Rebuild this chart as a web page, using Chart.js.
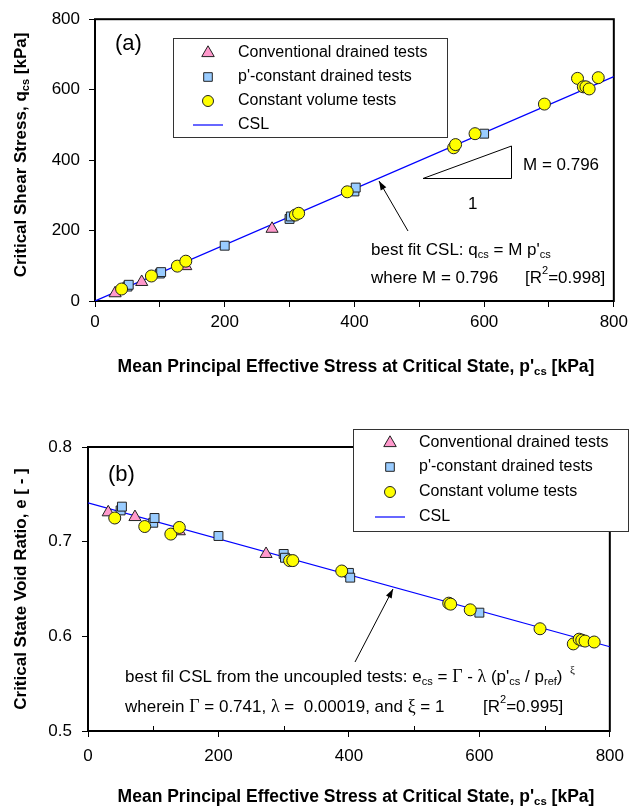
<!DOCTYPE html>
<html lang="en">
<head>
    <meta charset="UTF-8">
    <title>Critical state line</title>
    <script src="https://cdn.jsdelivr.net/npm/chart.js"></script>
    <style>
        body { margin: 0; background: #fff; }
        .wrap { position: absolute; left: 0; }
        #top { top: 0; }
        #bot { top: 390px; }
    </style>
</head>
<body>
    <div class="wrap" id="top"><canvas id="chartA" width="633" height="390"></canvas></div>
    <div class="wrap" id="bot"><canvas id="chartB" width="633" height="419"></canvas></div>

    <script>
        // data
        const pConv = [31, 72, 140, 273];
        const qConv = [22, 54, 99, 205];
        const eConv = [0.731, 0.726, 0.711, 0.687];

        const pPc = [50, 52, 100, 102, 200, 300, 302, 400, 402, 600];
        const qPc = [41, 46, 78, 82, 157, 233, 240, 311, 322, 475];
        const ePc = [0.733, 0.737, 0.720, 0.725, 0.706, 0.687, 0.683, 0.667, 0.662, 0.625];

        const pCv = [41, 87, 127, 140, 309, 314, 389, 553, 556, 586, 693, 744, 753, 757, 762, 776];
        const qCv = [34, 71, 99, 113, 244, 249, 310, 435, 444, 475, 559, 632, 608, 608, 602, 634];
        const eCv = [0.725, 0.716, 0.708, 0.715, 0.680, 0.680, 0.669, 0.635, 0.634, 0.628, 0.608, 0.592, 0.597, 0.596, 0.595, 0.594];

        const pCsl = [0, 800];
        const qCsl = [0, 637];
        const eCsl = [0.741, 0.589];

        const xTicks = [0, 200, 400, 600, 800];
        const xMinor = [100, 300, 500, 700];
        const qTicks = [0, 200, 400, 600, 800];
        const eTicks = [0.5, 0.6, 0.7, 0.8];

        const legendLabels = ['Conventional drained tests', 'p\'-constant drained tests', 'Constant volume tests', 'CSL'];

        const SANS = 'Arial, "Liberation Sans", sans-serif';
        const SERIF = '"Liberation Serif", "Times New Roman", serif';
        const PINK = '#FF99CC', BLUE = '#99CCFF', YELLOW = '#FFFF00', EDGE = '#222';

        function pts(xs, ys) { return xs.map((x, i) => ({ x: x, y: ys[i] })); }

        function makeDatasets(yConv, yPc, yCv, yCsl) {
            return [
                { label: legendLabels[2], data: pts(pCv, yCv), pointStyle: 'circle', pointRadius: 6,
                  backgroundColor: YELLOW, borderColor: EDGE, borderWidth: 1, showLine: false, order: 1 },
                { label: legendLabels[1], data: pts(pPc, yPc), pointStyle: 'rect', pointRadius: 6.3,
                  backgroundColor: BLUE, borderColor: EDGE, borderWidth: 1, showLine: false, order: 2 },
                { label: legendLabels[0], data: pts(pConv, yConv), pointStyle: 'triangle', pointRadius: 7,
                  backgroundColor: PINK, borderColor: EDGE, borderWidth: 1, showLine: false, order: 3 },
                { label: legendLabels[3], data: pts(pCsl, yCsl), pointRadius: 0, showLine: true,
                  borderColor: '#0000FF', borderWidth: 1.2, fill: false, order: 4 }
            ];
        }

        // text with sub / superscripts
        const T = t => ({ t: t });
        const S = t => ({ t: t, sub: true });
        const U = t => ({ t: t, sup: true });
        const G = t => ({ t: t, greek: true });
        const GU = t => ({ t: t, greek: true, sup: true });

        function drawRich(ctx, parts, x, y, size, bold, align) {
            const fontFor = p => {
                let s = (p.sub || p.sup) ? size * 0.65 : size;
                let f = p.greek ? SERIF : SANS;
                if (p.greek && !p.sup) s = size * 1.05;
                return (bold ? 'bold ' : '') + s + 'px ' + f;
            };
            let w = 0;
            parts.forEach(p => { ctx.font = fontFor(p); w += ctx.measureText(p.t).width; });
            let cx = align === 'center' ? x - w / 2 : x;
            ctx.textAlign = 'left';
            ctx.textBaseline = 'middle';
            ctx.fillStyle = '#000';
            parts.forEach(p => {
                ctx.font = fontFor(p);
                const dy = p.sub ? size * 0.3 : (p.sup ? -size * 0.4 : 0);
                ctx.fillText(p.t, cx, y + dy);
                cx += ctx.measureText(p.t).width;
            });
        }

        function symbol(ctx, kind, x, y) {
            ctx.save();
            ctx.lineWidth = 1;
            ctx.strokeStyle = EDGE;
            ctx.beginPath();
            if (kind === 'circle') {
                ctx.fillStyle = YELLOW;
                ctx.arc(x, y, 5.5, 0, Math.PI * 2);
            } else if (kind === 'rect') {
                ctx.fillStyle = BLUE;
                ctx.rect(x - 4.3, y - 4.3, 8.6, 8.6);
            } else if (kind === 'triangle') {
                ctx.fillStyle = PINK;
                const r = 7.2;
                ctx.moveTo(x, y - r);
                ctx.lineTo(x + r * 0.866, y + r * 0.5);
                ctx.lineTo(x - r * 0.866, y + r * 0.5);
                ctx.closePath();
            }
            ctx.fill();
            ctx.stroke();
            ctx.restore();
        }

        function drawLegend(ctx, box, symX, textX, rows) {
            ctx.save();
            ctx.fillStyle = '#fff';
            ctx.fillRect(box[0], box[1], box[2] - box[0], box[3] - box[1]);
            ctx.strokeStyle = '#333';
            ctx.lineWidth = 1;
            ctx.strokeRect(box[0] + 0.5, box[1] + 0.5, box[2] - box[0], box[3] - box[1]);
            const kinds = ['triangle', 'rect', 'circle', 'line'];
            kinds.forEach((k, i) => {
                if (k === 'line') {
                    ctx.strokeStyle = '#0000FF';
                    ctx.lineWidth = 1.2;
                    ctx.beginPath();
                    ctx.moveTo(symX - 15, rows[i]);
                    ctx.lineTo(symX + 15, rows[i]);
                    ctx.stroke();
                } else {
                    symbol(ctx, k, symX, rows[i]);
                }
                drawRich(ctx, [T(legendLabels[i])], textX, rows[i], 16, false, 'left');
            });
            ctx.restore();
        }

        function arrow(ctx, x0, y0, x1, y1) {
            ctx.save();
            ctx.strokeStyle = '#000';
            ctx.fillStyle = '#000';
            ctx.lineWidth = 1;
            ctx.beginPath();
            ctx.moveTo(x0, y0);
            ctx.lineTo(x1, y1);
            ctx.stroke();
            const a = Math.atan2(y1 - y0, x1 - x0), L = 9, W = 3.2;
            ctx.beginPath();
            ctx.moveTo(x1, y1);
            ctx.lineTo(x1 - L * Math.cos(a) + W * Math.sin(a), y1 - L * Math.sin(a) - W * Math.cos(a));
            ctx.lineTo(x1 - L * Math.cos(a) - W * Math.sin(a), y1 - L * Math.sin(a) + W * Math.cos(a));
            ctx.closePath();
            ctx.fill();
            ctx.restore();
        }

        // frame around the plot area
        const frame = {
            id: 'frame',
            beforeDatasetsDraw(chart) {
                const a = chart.chartArea, ctx = chart.ctx;
                ctx.save();
                ctx.strokeStyle = '#000';
                ctx.lineWidth = 2;
                ctx.strokeRect(a.left, a.top, a.right - a.left, a.bottom - a.top);
                ctx.restore();
            }
        };

        // short inward ticks between the labelled ones (panel b)
        function innerMinor(chart) {
            const ctx = chart.ctx, sx = chart.scales.x, b = chart.chartArea.bottom;
            ctx.save();
            ctx.strokeStyle = '#000';
            ctx.lineWidth = 1;
            xMinor.forEach(v => {
                const x = Math.round(sx.getPixelForValue(v)) + 0.5;
                ctx.beginPath();
                ctx.moveTo(x, b);
                ctx.lineTo(x, b - 5);
                ctx.stroke();
            });
            ctx.restore();
        }

        const xTitle = [T('Mean Principal Effective Stress at Critical State, p\''), S('cs'), T(' [kPa]')];

        function yTitle(ctx, parts, x, y) {
            ctx.save();
            ctx.translate(x, y);
            ctx.rotate(-Math.PI / 2);
            drawRich(ctx, parts, 0, 0, 17, true, 'center');
            ctx.restore();
        }

        const notesA = {
            id: 'notesA',
            afterDraw(chart) {
                const ctx = chart.ctx;
                drawLegend(ctx, [173, 38, 447, 137], 208, 238, [53, 77, 101, 125]);
                drawRich(ctx, [T('(a)')], 115, 44, 22, false, 'left');
                // slope triangle
                ctx.save();
                ctx.strokeStyle = '#000';
                ctx.lineWidth = 1;
                ctx.beginPath();
                ctx.moveTo(423, 178.5);
                ctx.lineTo(511.5, 178.5);
                ctx.lineTo(511.5, 146);
                ctx.closePath();
                ctx.stroke();
                ctx.restore();
                drawRich(ctx, [T('M = 0.796')], 523, 165, 17, false, 'left');
                drawRich(ctx, [T('1')], 468, 204, 17, false, 'left');
                arrow(ctx, 408, 231, 379, 181);
                drawRich(ctx, [T('best fit CSL: q'), S('cs'), T(' = M p\''), S('cs')], 371, 250, 17, false, 'left');
                drawRich(ctx, [T('where M = 0.796')], 371, 278, 17, false, 'left');
                drawRich(ctx, [T('[R'), U('2'), T('=0.998]')], 525, 278, 17, false, 'left');
                drawRich(ctx, xTitle, 356, 367, 17.5, true, 'center');
                yTitle(ctx, [T('Critical Shear Stress, q'), S('cs'), T(' [kPa]')], 21, 155);
            }
        };

        const notesB = {
            id: 'notesB',
            afterDraw(chart) {
                const ctx = chart.ctx;
                innerMinor(chart);
                drawLegend(ctx, [353, 39, 628, 141], 390, 419, [53, 77, 102, 127]);
                drawRich(ctx, [T('(b)')], 108, 85, 22, false, 'left');
                arrow(ctx, 355, 272, 393, 199);
                drawRich(ctx, [T('best fil CSL from the uncoupled tests: e'), S('cs'), T(' = '), G('\u0393'), T(' - '),
                    G('\u03bb'), T(' (p\''), S('cs'), T(' / p'), S('ref'), T(') '), GU(' \u03be')], 125, 287, 17, false, 'left');
                drawRich(ctx, [T('wherein '), G('\u0393'), T(' = 0.741, '), G('\u03bb'), T(' =  0.00019, and '),
                    G('\u03be'), T(' = 1')], 125, 317, 17, false, 'left');
                drawRich(ctx, [T('[R'), U('2'), T('=0.995]')], 483, 317, 17, false, 'left');
                drawRich(ctx, xTitle, 356, 407, 17.5, true, 'center');
                yTitle(ctx, [T('Critical State Void Ratio, e [ - ]')], 21, 199);
            }
        };

        function axisX(labelPad, height, showMinor) {
            return {
                type: 'linear', min: 0, max: 800,
                afterFit: s => { s.height = height; },
                afterBuildTicks: s => {
                    const vals = showMinor ? [0, 100, 200, 300, 400, 500, 600, 700, 800] : xTicks;
                    s.ticks = vals.map(v => ({ value: v }));
                },
                ticks: {
                    padding: labelPad, color: '#000', font: { family: SANS, size: 17 },
                    callback: v => xTicks.includes(v) ? String(v) : ''
                },
                grid: { drawOnChartArea: false, drawTicks: true, tickLength: 6, color: '#000', lineWidth: 1 },
                border: { display: false }
            };
        }

        function axisY(min, max, tickVals, width, labelPad, fmt) {
            return {
                type: 'linear', min: min, max: max,
                afterFit: s => { s.width = width; },
                afterBuildTicks: s => { s.ticks = tickVals.map(v => ({ value: v })); },
                ticks: { padding: labelPad, color: '#000', font: { family: SANS, size: 17 }, callback: fmt },
                grid: { drawOnChartArea: false, drawTicks: true, tickLength: 6, color: '#000', lineWidth: 1 },
                border: { display: false }
            };
        }

        const common = {
            responsive: false,
            animation: false,
            devicePixelRatio: 1,
            plugins: { legend: { display: false }, tooltip: { enabled: false } }
        };

        new Chart(document.getElementById('chartA'), {
            type: 'scatter',
            data: { datasets: makeDatasets(qConv, qPc, qCv, qCsl) },
            options: Object.assign({}, common, {
                layout: { padding: { top: 17, right: 18, left: 0, bottom: 0 } },
                scales: {
                    x: axisX(5, 89, true),
                    y: axisY(0, 800, qTicks, 95, 9, v => String(v))
                }
            }),
            plugins: [frame, notesA]
        });

        new Chart(document.getElementById('chartB'), {
            type: 'scatter',
            data: { datasets: makeDatasets(eConv, ePc, eCv, eCsl) },
            options: Object.assign({}, common, {
                layout: { padding: { top: 57, right: 18, left: 0, bottom: 0 } },
                scales: {
                    x: axisX(9, 78, false),
                    y: axisY(0.5, 0.8, eTicks, 88, 10, v => v.toFixed(1))
                }
            }),
            plugins: [frame, notesB]
        });
    </script>
</body>
</html>
